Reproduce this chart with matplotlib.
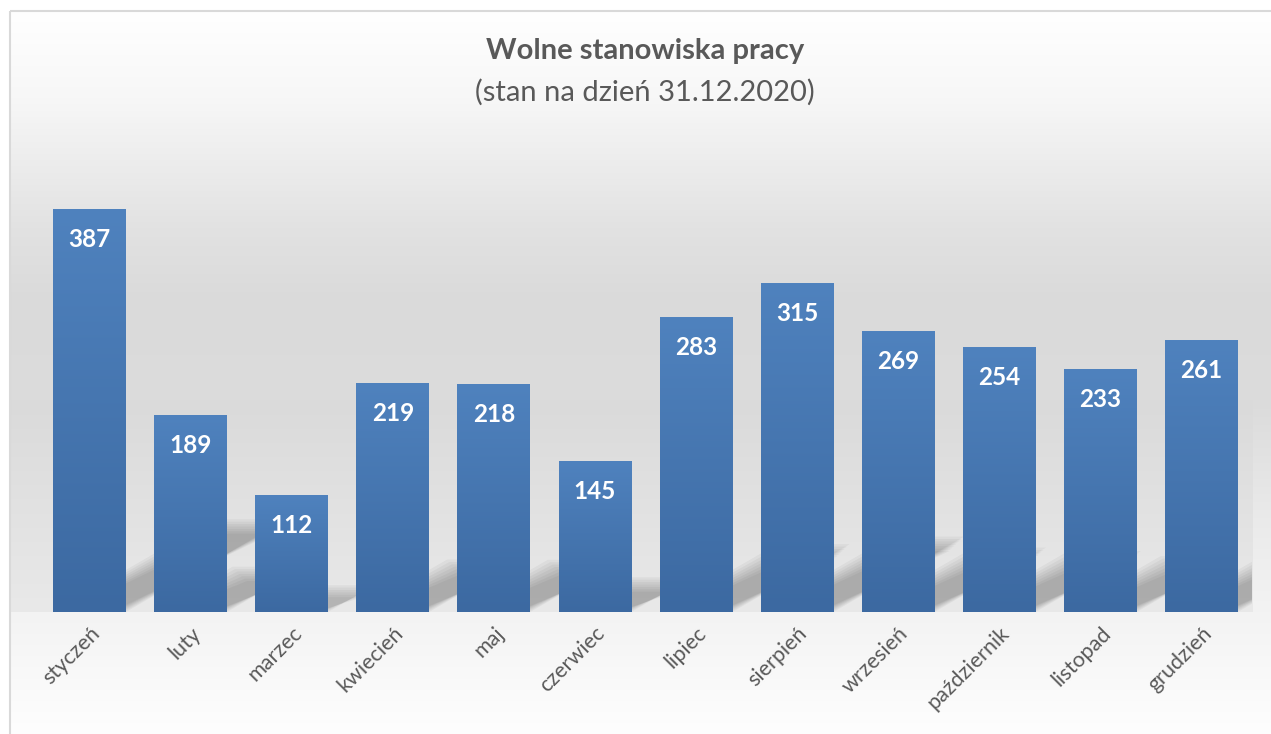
import numpy as np
import matplotlib
matplotlib.use("Agg")
import matplotlib.pyplot as plt
from matplotlib.patches import Polygon, Rectangle

plt.rcParams['font.family'] = ['Lato', 'DejaVu Sans']

# data
months = ['styczeń', 'luty', 'marzec', 'kwiecień', 'maj', 'czerwiec',
          'lipiec', 'sierpień', 'wrzesień', 'październik', 'listopad', 'grudzień']
values = [387, 189, 112, 219, 218, 145, 283, 315, 269, 254, 233, 261]
title = 'Wolne stanowiska pracy'
subtitle = '(stan na dzień 31.12.2020)'

W, H = 1271, 734
fig = plt.figure(figsize=(W / 100, H / 100), dpi=100)
fig.patch.set_facecolor('white')

# background gradient (chart area + plot area), in figure pixels
yy = np.arange(H)
frac = (yy - 11) / (H - 11)
stops_f = [0.0, 0.12, 0.3, 0.4, 0.55, 0.7, 0.83, 1.0]
stops_v = [255, 247, 226, 218, 220, 234, 243, 254]
chart_col = np.interp(frac, stops_f, stops_v)
plot_col = chart_col.copy()
m = (yy >= 400) & (yy < 612)
plot_col[m] = np.interp(yy[m], [400, 612], [218, 233])
bg = np.ones((H, W)) * 255
bg[11:, 10:] = chart_col[11:, None]
bg[11:612, 10:1253] = plot_col[11:612, None]
bg_ax = fig.add_axes([0, 0, 1, 1], zorder=-10)
bg_ax.imshow(np.dstack([bg, bg, bg]) / 255, extent=[0, W, H, 0], aspect='auto')
bg_ax.set_xlim(0, W)
bg_ax.set_ylim(H, 0)
bg_ax.axis('off')
# border of the chart box
bg_ax.add_patch(Rectangle((9.5, 11), W + 10, H + 10, fill=False,
                          edgecolor='#d9d9d9', linewidth=1.5))

# plot axes
ax = fig.add_axes([39 / W, 122 / H, 1213 / W, 468.6 / H])
ax.patch.set_alpha(0)
bw = 0.72
x = np.arange(len(values))

# perspective shadows behind the bars
for i, v in enumerate(values):
    x0, x1 = i - bw / 2, i + bw / 2
    sx = 0.0041 * v
    sh = 0.23 * v
    for k in range(7):
        dx = k * 2.4 / 101.1
        dy = k * 2.4 / 1.0413
        if sh - 2 * dy <= 0:
            break
        pts = [(x0 + dx, 0), (x1 - dx, 0),
               (x1 + sx - dx, sh - dy), (x0 + sx + dx, sh - dy)]
        ax.add_patch(Polygon(pts, closed=True, facecolor='black',
                             edgecolor='none', alpha=0.04, zorder=1))

# bars with vertical gradient
top_c = np.array([79, 130, 190]) / 255
bot_c = np.array([60, 105, 161]) / 255
grad = np.linspace(0, 1, 256)[:, None]
grad_img = (top_c[None, :] * (1 - grad) + bot_c[None, :] * grad)[:, None, :]
for i, v in enumerate(values):
    ax.imshow(grad_img, extent=[i - bw / 2, i + bw / 2, 0, v],
              aspect='auto', origin='upper', zorder=3)
    ax.annotate(str(v), (i, v), xytext=(0, -30), textcoords='offset pixels',
                ha='center', va='center', color='white', fontsize=17.5,
                fontweight='bold', zorder=4)

ax.set_xlim(-0.5, len(values) - 0.5)
ax.set_ylim(0, 450)
ax.set_xticks(x)
ax.set_xticklabels(months, rotation=45, ha='right', rotation_mode='anchor',
                   fontsize=15.5, color='#595959')
ax.tick_params(axis='x', length=0, pad=8)
ax.set_yticks([])
for s in ax.spines.values():
    s.set_visible(False)

fig.text(645 / W, 1 - 51 / H, title, ha='center', va='center',
         fontsize=21, fontweight='bold', color='#595959')
fig.text(645 / W, 1 - 92 / H, subtitle, ha='center', va='center',
         fontsize=21, color='#595959')

fig.savefig('out.png', dpi=100)
